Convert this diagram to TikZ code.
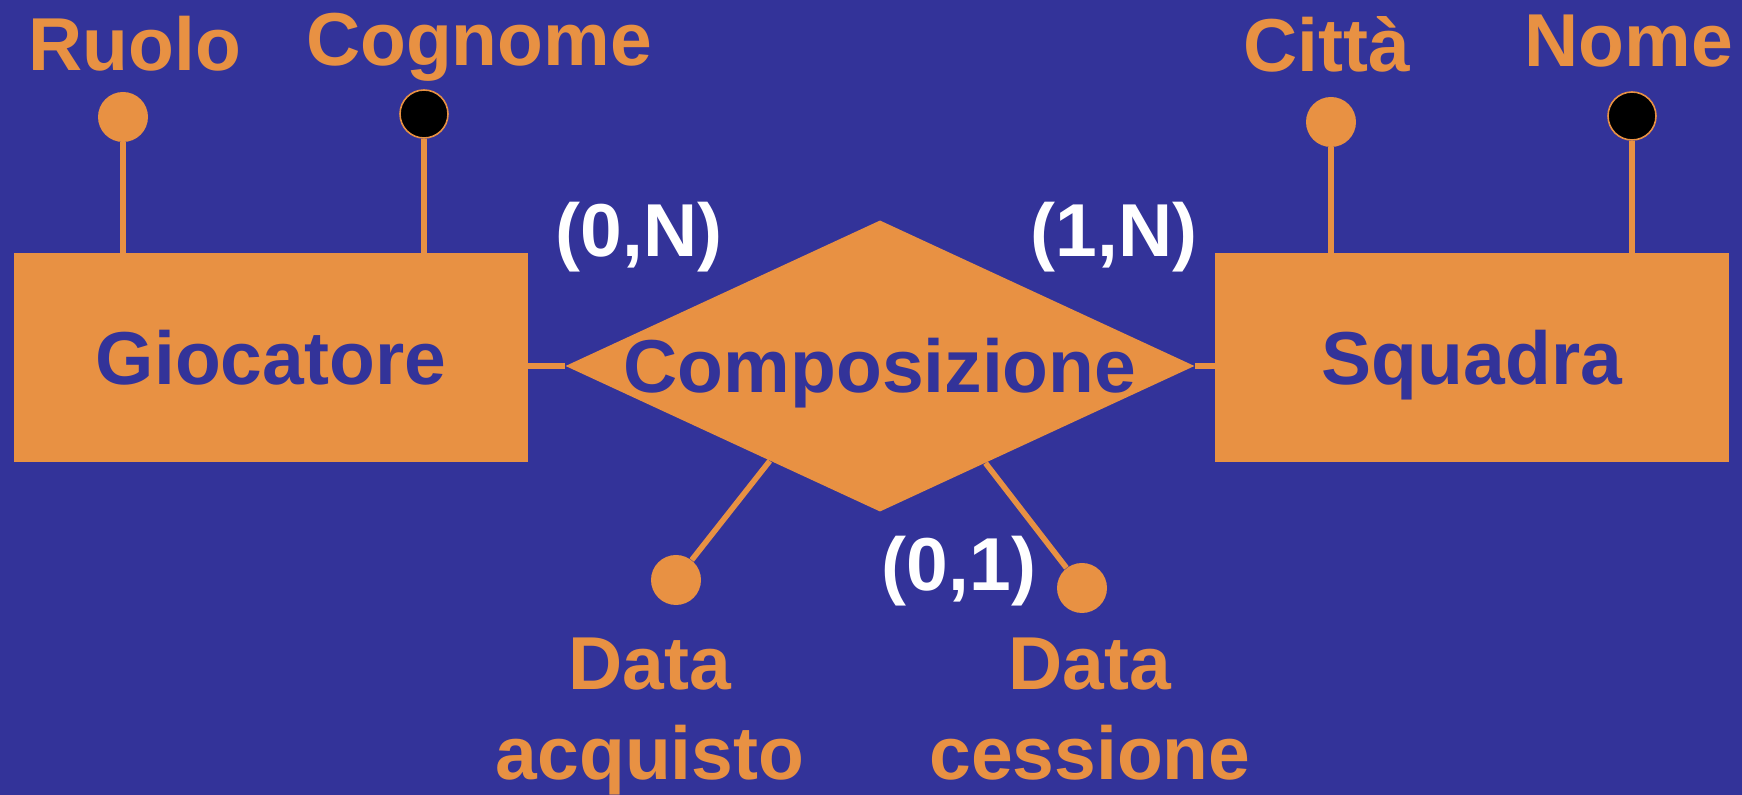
\documentclass[tikz,border=0pt]{standalone}
\usepackage{fontspec}
\setmainfont{Liberation Sans}
\usetikzlibrary{shapes.geometric,calc}
\definecolor{erblue}{RGB}{51,51,153}
\definecolor{erorange}{RGB}{232,145,67}
\begin{document}
\begin{tikzpicture}[x=0.5pt,y=-0.5pt,
  every node/.style={font=\fontsize{37.5}{45}\selectfont\bfseries, inner sep=0pt},
  entity/.style={rectangle, fill=erorange, text=erblue, minimum width=257pt,
    minimum height=104.5pt, text height=27pt, text depth=0pt},
  relation/.style={diamond, aspect=2.16, fill=erorange, text=erblue,
    minimum width=313pt, minimum height=145pt, text height=27pt, text depth=0pt},
  attr/.style={circle, fill=erorange, minimum size=25pt},
  keyattr/.style={circle, fill=black, draw=erorange, line width=0.8pt, minimum size=24pt},
  attrname/.style={text=erorange, anchor=base},
  card/.style={text=white, anchor=base},
  link/.style={draw=erorange, line width=2.8pt}]

% background
\fill[erblue] (0,0) rectangle (1742,795);
\useasboundingbox (0,0) rectangle (1742,795);

% entities and relationship
\node[entity] (gio) at (271,357.5) {Giocatore};
\node[entity] (squ) at (1472,358) {Squadra};
\node[relation] (comp) at (880,366) {Composizione};

% attribute markers
\node[attr] (ruolo) at (123,117) {};
\node[keyattr] (cogn) at (424,114) {};
\node[attr] (citta) at (1331,122) {};
\node[keyattr] (nome) at (1632,116) {};
\node[attr] (dacq) at (676,580) {};
\node[attr] (dces) at (1082,588) {};

% attribute names
\node[attrname] (lruolo) at (135,71) {Ruolo};
\node[attrname] (lcogn) at (479,66) {Cognome};
\node[attrname] (lcitta) at (1327,72) {Città};
\node[attrname] (lnome) at (1629,67) {Nome};
\node[attrname] (ldacq) at (650,690) {\begin{tabular}[t]{@{}c@{}}Data\\acquisto\end{tabular}};
\node[attrname] (ldces) at (1090,690) {\begin{tabular}[t]{@{}c@{}}Data\\cessione\end{tabular}};

% cardinalities
\node[card] (cgio) at (639,257) {(0,N)};
\node[card] (csqu) at (1114,257) {(1,N)};
\node[card] (cdces) at (959,591) {(0,1)};

% connectors
\path[link] (gio.east |- comp.west) -- (comp.west);
\path[link] (comp.east) -- (comp.east -| squ.west);
\path[link] (ruolo) -- (ruolo |- gio.north);
\path[link] (cogn) -- (cogn |- gio.north);
\path[link] (citta) -- (citta |- squ.north);
\path[link] (nome) -- (nome |- squ.north);
\path[link] (dacq) -- ($(comp.west)!0.65!(comp.south)$);
\path[link] (dces) -- ($(comp.south)!0.335!(comp.east)$);
\end{tikzpicture}
\end{document}
